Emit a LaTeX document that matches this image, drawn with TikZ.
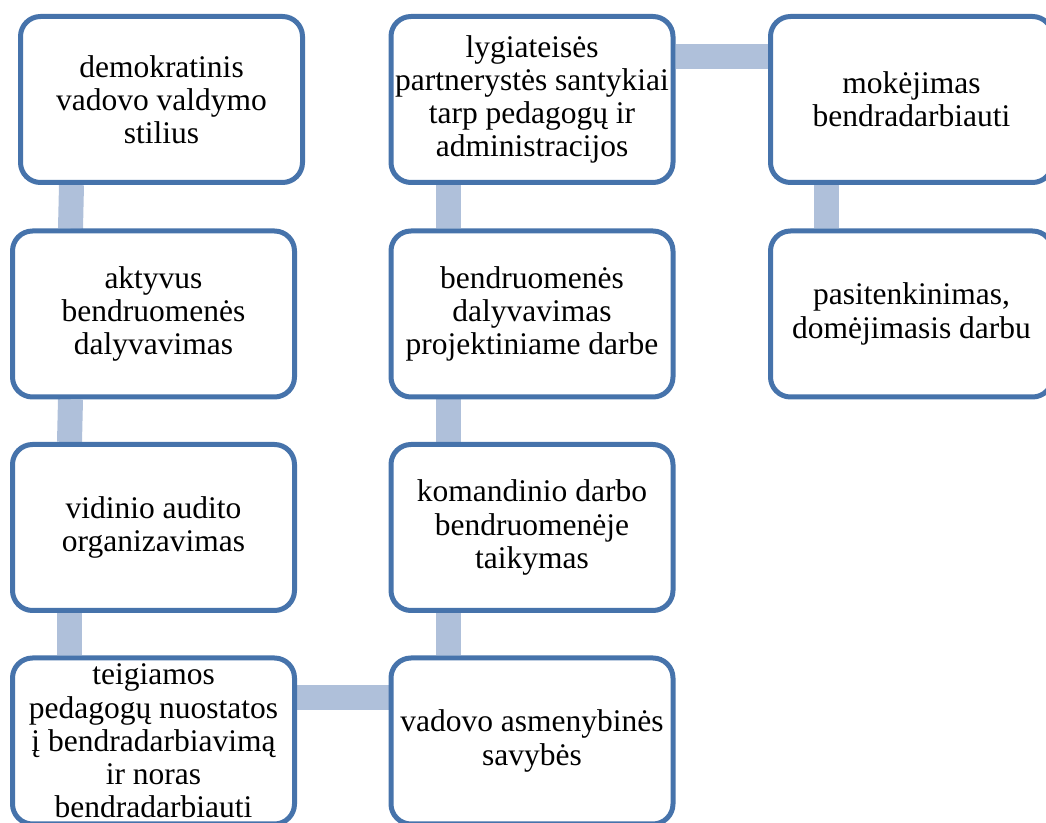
\documentclass[tikz,border=0pt]{standalone}
\usepackage{fontspec}
\setmainfont{Liberation Serif}
\usetikzlibrary{positioning,calc,backgrounds}

\definecolor{boxblue}{HTML}{4673AB}
\definecolor{linkblue}{HTML}{AFC0DA}

\begin{document}
\begin{tikzpicture}[x=0.5pt,y=-0.5pt,
    box/.style={draw=boxblue,line width=2.5pt,fill=white,rounded corners=10pt,
      minimum width=141pt,minimum height=83pt,inner sep=0pt,align=center,
      font=\fontsize{15.75}{16.6}\selectfont},
    link/.style={linkblue,line width=12.5pt}]
  \useasboundingbox (0,0) rectangle (1046,823);
  \clip (0,0) rectangle (1046,823);
  \node[box] (stilius) at (161.5,99.5) {demokratinis\\vadovo valdymo\\stilius};
  \node[box] (aktyvus) at (153.5,314) {aktyvus\\bendruomenės\\dalyvavimas};
  \node[box] (auditas) at (153.5,527.5) {vidinio audito\\organizavimas};
  \node[box] (nuostatos) at (153.5,741) {teigiamos\\pedagogų nuostatos\\į bendradarbiavimą\\ir noras\\bendradarbiauti};
  \node[box] (partneryste) at (532,99.5) {lygiateisės\\partnerystės santykiai\\tarp pedagogų ir\\administracijos};
  \node[box] (projektai) at (532,314) {bendruomenės\\dalyvavimas\\projektiniame darbe};
  \node[box] (komanda) at (532,527.5) {komandinio darbo\\bendruomenėje\\taikymas};
  \node[box] (savybes) at (532,741) {vadovo asmenybinės\\savybės};
  \node[box] (mokejimas) at (911.5,99.5) {mokėjimas\\bendradarbiauti};
  \node[box] (domejimasis) at (911.5,314) {pasitenkinimas,\\domėjimasis darbu};
  \begin{scope}[on background layer]
    \draw[link] ([xshift=-45pt]stilius.south) -- ([xshift=-41.5pt]aktyvus.north);
    \draw[link] ([xshift=-41.5pt]aktyvus.south) -- ([xshift=-42pt]auditas.north);
    \draw[link] ([xshift=-42pt]auditas.south) -- ([xshift=-42pt]nuostatos.north);
    \draw[link] ([yshift=21.5pt]nuostatos.east) -- ([yshift=21.5pt]savybes.west);
    \draw[link] ([xshift=-42pt]savybes.north) -- ([xshift=-42pt]komanda.south);
    \draw[link] ([xshift=-42pt]komanda.north) -- ([xshift=-42pt]projektai.south);
    \draw[link] ([xshift=-42pt]projektai.north) -- ([xshift=-42pt]partneryste.south);
    \draw[link] ([yshift=21.5pt]partneryste.east) -- ([yshift=21.5pt]mokejimas.west);
    \draw[link] ([xshift=-42.5pt]mokejimas.south) -- ([xshift=-42.5pt]domejimasis.north);
  \end{scope}
\end{tikzpicture}
\end{document}
